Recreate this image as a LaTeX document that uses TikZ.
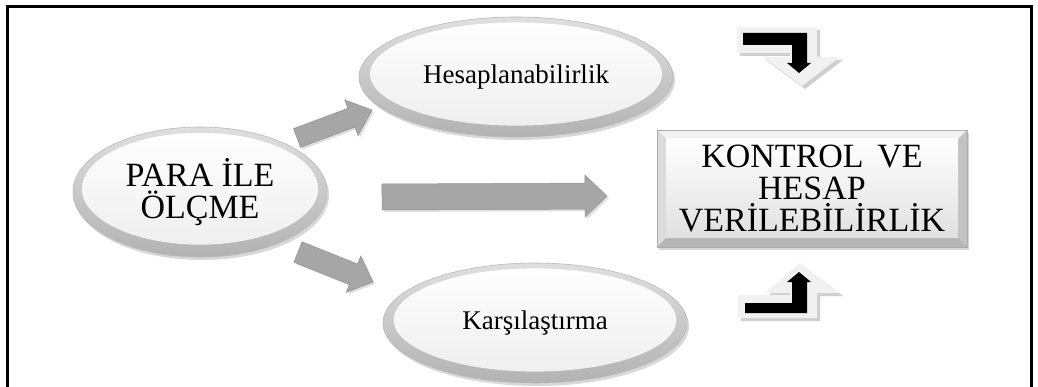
\documentclass[tikz,border=0pt]{standalone}
\usepackage{fontspec}
\setmainfont{Liberation Serif}
\usetikzlibrary{calc,shadows,shapes.geometric}

\tikzset{
  frame/.style={line width=3pt, black},
  bubble/.style={ellipse, inner sep=0pt, align=center,
    draw=gray!55, line width=0.6pt,
    top color=gray!25, bottom color=gray!60,
    drop shadow={opacity=0.3, shadow xshift=2pt, shadow yshift=-3pt},
    path picture={
      \shade[top color=white, bottom color=gray!14]
        let \p1=(path picture bounding box.center),
            \p2=(path picture bounding box.north east) in
        (\x1,{\y1+0.05*(\y2-\y1)}) ellipse [x radius={0.93*(\x2-\x1)}, y radius={0.86*(\y2-\y1)}];
    }},
  goalbox/.style={rectangle, inner sep=0pt, align=center,
    minimum width=310pt, minimum height=117pt,
    fill=gray!45, draw=gray!65, line width=0.6pt,
    drop shadow={opacity=0.3, shadow xshift=2pt, shadow yshift=-3pt},
    path picture={
      \coordinate (bl) at (path picture bounding box.south west);
      \coordinate (tr) at (path picture bounding box.north east);
      \coordinate (tl) at (bl |- tr);
      \coordinate (br) at (tr |- bl);
      \coordinate (ibl) at ($(bl)+(9pt,9pt)$);
      \coordinate (itr) at ($(tr)+(-9pt,-9pt)$);
      \coordinate (itl) at (ibl |- itr);
      \coordinate (ibr) at (itr |- ibl);
      \fill[gray!10] (tl) -- (tr) -- (itr) -- (itl) -- cycle;
      \fill[gray!28] (tl) -- (itl) -- (ibl) -- (bl) -- cycle;
      \fill[gray!48] (tr) -- (br) -- (ibr) -- (itr) -- cycle;
      \fill[gray!58] (bl) -- (br) -- (ibr) -- (ibl) -- cycle;
      \shade[top color=white, bottom color=gray!24] (itl) rectangle (ibr);
    }},
  blockarrow/.style={fill=gray!70, draw=gray!85, line width=0.5pt,
    drop shadow={opacity=0.25, shadow xshift=2pt, shadow yshift=-2pt}},
  bentlight/.style={fill=gray!11},
  bentshade/.style={fill=gray!38},
  bentdark/.style={fill=black},
  bigtext/.style={font=\fontsize{34}{32}\selectfont},
  smalltext/.style={font=\fontsize{27}{30}\selectfont}
}

% block arrow from #1 to #2: shaft half-width #3, head half-width #4, head length #5
\newcommand\blockarrow[5]{%
  \coordinate (ah) at ($(#2)!#5!(#1)$);
  \path[blockarrow] ($(#1)!#3!90:(#2)$) -- ($(ah)!#3!-90:(#1)$) -- ($(ah)!#4!-90:(#1)$)
    -- (#2) -- ($(ah)!#4!90:(#1)$) -- ($(ah)!#3!90:(#1)$) -- ($(#1)!#3!-90:(#2)$) -- cycle;}

\begin{document}
\begin{tikzpicture}[x=1pt, y=-1pt]
  \useasboundingbox (0,0) rectangle (1038,387);
  \fill[white] (0,0) rectangle (1038,387);

  % outer frame
  \draw[frame] (7,387) -- (7,7) -- (1031,7) -- (1031,387);

  % boxes
  \node[bubble, bigtext, minimum width=254pt, minimum height=130pt] (para) at (200,192)
    {PARA İLE\\ÖLÇME};
  \node[bubble, smalltext, minimum width=314pt, minimum height=120pt] (hesap) at (516,77)
    {Hesaplanabilirlik};
  \node[bubble, smalltext, minimum width=304pt, minimum height=120pt] (kars) at (535,323)
    {Karşılaştırma};
  \node[goalbox, bigtext] (goal) at (812,188.5)
    {KONTROL\hspace{0.4em}VE\\HESAP\\VERİLEBİLİRLİK};

  % block arrows
  \coordinate (up0) at (297,138);  \coordinate (up1) at (372,110);
  \coordinate (mid0) at (382,197); \coordinate (mid1) at (607,196);
  \coordinate (dn0) at (298,252);  \coordinate (dn1) at (373,282);
  \blockarrow{up0}{up1}{10pt}{19pt}{22pt}
  \blockarrow{mid0}{mid1}{13pt}{21pt}{22pt}
  \blockarrow{dn0}{dn1}{11pt}{19.5pt}{21pt}

  % bent arrow above the box, pointing down
  \begin{scope}[shift={(3,3)}]
    \fill[bentshade] (737,27) -- (817,27) -- (817,57) -- (840,57) -- (802,86) -- (763,57)
      -- (790,57) -- (790,53) -- (737,53) -- cycle;
  \end{scope}
  \fill[bentlight] (737,27) -- (817,27) -- (817,57) -- (840,57) -- (802,86) -- (763,57)
    -- (790,57) -- (790,53) -- (737,53) -- cycle;
  \fill[bentdark] (743,33) -- (807,33) -- (807,63) -- (811,63) -- (799,73) -- (787,63)
    -- (792,63) -- (792,45) -- (743,45) -- cycle;

  % bent arrow below the box, pointing up
  \begin{scope}[shift={(3,3)}]
    \fill[bentshade] (738,318) -- (817,318) -- (817,293) -- (840,293) -- (800,263) -- (765,293)
      -- (790,293) -- (790,295) -- (738,295) -- cycle;
  \end{scope}
  \fill[bentlight] (738,318) -- (817,318) -- (817,293) -- (840,293) -- (800,263) -- (765,293)
    -- (790,293) -- (790,295) -- (738,295) -- cycle;
  \fill[bentdark] (745,313) -- (807,313) -- (807,282) -- (811,282) -- (799,272) -- (787,282)
    -- (792,282) -- (792,303) -- (745,303) -- cycle;
\end{tikzpicture}
\end{document}
